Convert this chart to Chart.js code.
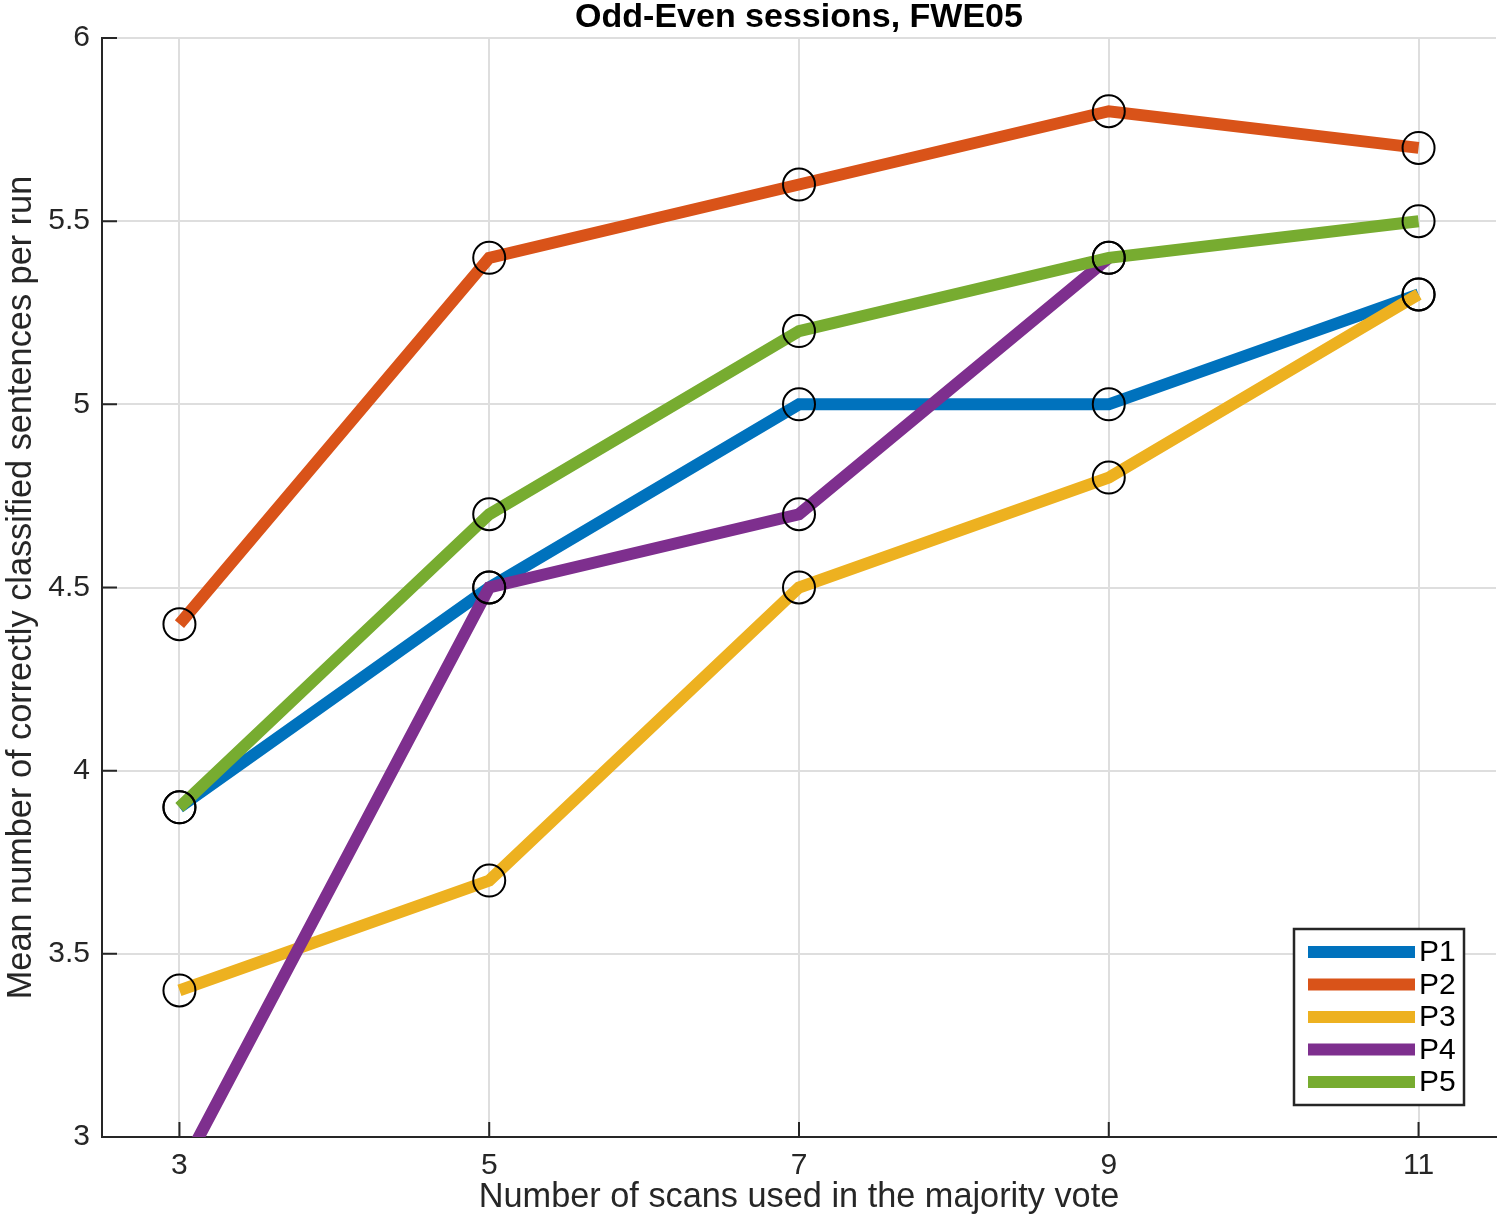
<!DOCTYPE html>
<html><head><meta charset="utf-8">
<script src="https://cdn.jsdelivr.net/npm/chart.js@4"></script>
<style>html,body{margin:0;padding:0;background:#fff;overflow:hidden}canvas{display:block}</style>
</head><body><canvas id="c" width="1500" height="1222" style="width:1500px;height:1222px"></canvas>
<script>
const scans = [3, 5, 7, 9, 11];
const seriesNames = ['P1', 'P2', 'P3', 'P4', 'P5'];
const p1 = [3.9, 4.5, 5.0, 5.0, 5.3];
const p2 = [4.4, 5.4, 5.6, 5.8, 5.7];
const p3 = [3.4, 3.7, 4.5, 4.8, 5.3];
const p4 = [2.9, 4.5, 4.7, 5.4, null];
const p5 = [3.9, 4.7, 5.2, 5.4, 5.5];
const xTicks = [3, 5, 7, 9, 11];
const yTicks = [3, 3.5, 4, 4.5, 5, 5.5, 6];
const titleText = 'Odd-Even sessions, FWE05';
const xTitle = 'Number of scans used in the majority vote';
const yTitle = 'Mean number of correctly classified sentences per run';

const colors = ['#0072BD', '#D95319', '#EDB120', '#7E2F8E', '#77AC30'];
const allSeries = [p1, p2, p3, p4, p5];
const FONT = "'Liberation Sans', Arial, Helvetica, sans-serif";
const TXT = '#262626';

const lineSets = allSeries.map((vals, i) => ({
  label: seriesNames[i],
  data: scans.map((x, j) => ({ x: x, y: vals[j] })),
  borderColor: colors[i],
  backgroundColor: colors[i],
  borderWidth: 12,
  borderCapStyle: 'butt',
  borderJoinStyle: 'miter',
  pointRadius: 0,
  pointHoverRadius: 0,
  tension: 0,
  fill: false,
  spanGaps: false,
  order: 5 - i
}));

const markerPts = [];
allSeries.forEach(vals => scans.forEach((x, j) => { if (vals[j] !== null) markerPts.push({ x: x, y: vals[j] }); }));
const markerSet = {
  label: 'markers',
  data: markerPts,
  showLine: false,
  pointRadius: 16,
  pointHoverRadius: 16,
  pointBorderWidth: 2,
  pointBorderColor: '#000',
  pointBackgroundColor: 'rgba(0,0,0,0)',
  borderWidth: 0,
  order: 0,
  clip: 0
};

const inwardTicks = {
  id: 'inwardTicks',
  beforeDatasetsDraw(chart) {
    const { ctx, chartArea: a, scales: { x, y } } = chart;
    ctx.save();
    ctx.strokeStyle = TXT;
    ctx.lineWidth = 2;
    ctx.beginPath();
    xTicks.forEach(v => { const px = x.getPixelForValue(v); ctx.moveTo(px, a.bottom); ctx.lineTo(px, a.bottom - 15); });
    yTicks.forEach(v => { const py = y.getPixelForValue(v); ctx.moveTo(a.left, py); ctx.lineTo(a.left + 15, py); });
    ctx.stroke();
    ctx.restore();
  }
};

const boxLegend = {
  id: 'boxLegend',
  afterDraw(chart) {
    const { ctx, chartArea: a } = chart;
    const bx = a.right - 202, by = a.bottom - 208, bw = 170, bh = 176;
    ctx.save();
    ctx.fillStyle = '#fff';
    ctx.fillRect(bx, by, bw, bh);
    ctx.strokeStyle = TXT;
    ctx.lineWidth = 2.5;
    ctx.strokeRect(bx, by, bw, bh);
    ctx.font = '30px ' + FONT;
    ctx.textBaseline = 'middle';
    ctx.textAlign = 'left';
    seriesNames.forEach((name, i) => {
      const yy = by + 23 + i * 32.5;
      ctx.strokeStyle = colors[i];
      ctx.lineWidth = 12;
      ctx.lineCap = 'butt';
      ctx.beginPath();
      ctx.moveTo(bx + 14, yy);
      ctx.lineTo(bx + 121, yy);
      ctx.stroke();
      ctx.fillStyle = '#000';
      ctx.fillText(name, bx + 125, yy + 1);
    });
    ctx.restore();
  }
};

new Chart(document.getElementById('c'), {
  type: 'line',
  data: { datasets: [markerSet].concat(lineSets) },
  options: {
    responsive: false,
    maintainAspectRatio: false,
    devicePixelRatio: 1,
    animation: false,
    events: [],
    layout: { autoPadding: false, padding: { left: 0, right: 4, top: 0, bottom: 0 } },
    plugins: {
      legend: { display: false },
      tooltip: { enabled: false },
      title: {
        display: true,
        fullSize: false,
        text: titleText,
        color: '#000',
        font: { family: FONT, size: 34, weight: 'bold', lineHeight: 1 },
        padding: { top: 1, bottom: 3 }
      }
    },
    scales: {
      x: {
        type: 'linear',
        min: 2.5,
        max: 11.5,
        afterBuildTicks: s => { s.ticks = xTicks.map(v => ({ value: v })); },
        afterFit: s => { s.height = 85; s.paddingLeft = 0; s.paddingRight = 0; },
        grid: { color: '#dedede', lineWidth: 2, drawTicks: false },
        border: { display: true, color: TXT, width: 2 },
        ticks: { color: TXT, font: { family: FONT, size: 30 }, padding: 11, callback: v => String(v) },
        title: { display: true, text: xTitle, color: TXT, font: { family: FONT, size: 34.3, lineHeight: 1.2 }, padding: { top: 0, bottom: 4 } }
      },
      y: {
        type: 'linear',
        min: 3,
        max: 6,
        afterBuildTicks: s => { s.ticks = yTicks.map(v => ({ value: v })); },
        afterFit: s => { s.width = 102; s.paddingLeft = 0; s.paddingRight = 0; },
        grid: { color: '#dedede', lineWidth: 2, drawTicks: false },
        border: { display: true, color: TXT, width: 2 },
        ticks: { color: TXT, font: { family: FONT, size: 30 }, padding: 12, callback: v => String(v) },
        title: { display: true, text: yTitle, color: TXT, font: { family: FONT, size: 34.3, lineHeight: 1.2 }, padding: { top: 1, bottom: 0 } }
      }
    }
  },
  plugins: [inwardTicks, boxLegend]
});
</script>
</body></html>
